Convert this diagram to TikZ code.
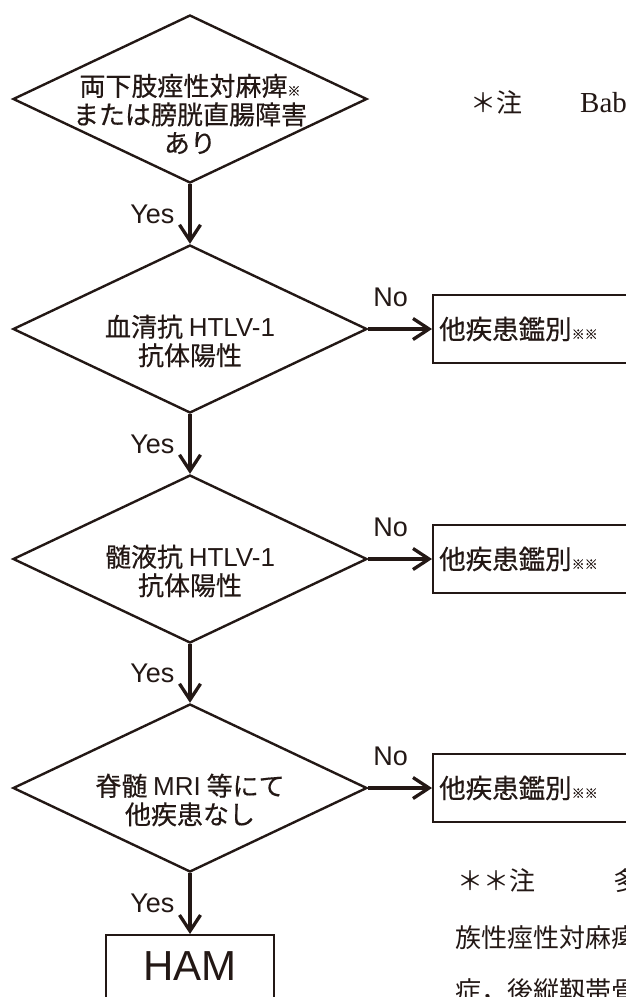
\documentclass[tikz,border=0pt]{standalone}
\usepackage{fontspec}
\setmainfont{Liberation Sans}
\newfontfamily\jp{Noto Sans CJK JP}[FakeBold=0.4]
\newfontfamily\jpn{Noto Sans CJK JP}
\newfontfamily\latn{Liberation Sans}
\newfontfamily\lserif{Liberation Serif}
\usetikzlibrary{shapes.geometric,arrows.meta}
\definecolor{ink}{HTML}{231815}
\tikzset{
  dia/.style={draw=ink, line width=2.4pt, diamond, minimum width=354pt, minimum height=168pt, inner sep=0pt},
  dtext/.style={text=ink, align=center, inner sep=0pt, font=\jp\fontsize{26}{28.5}\selectfont},
  arr/.style={draw=ink, line width=3.3pt, -{Straight Barb[length=16pt,width=21pt]}},
  lab/.style={text=ink, inner sep=0pt, font=\latn\fontsize{27}{27}\selectfont},
  sidebox/.style={draw=ink, line width=2.4pt, anchor=west, minimum height=68pt, text width=200pt, align=left, inner xsep=6pt, text=ink, font=\jp\fontsize{26.5}{26.5}\selectfont},
  hambox/.style={draw=ink, line width=2.4pt, anchor=north, minimum width=168pt, inner xsep=0pt, inner ysep=0pt, text height=45pt, text depth=60pt, text=ink, font=\latn\fontsize{42}{42}\selectfont},
  note/.style={text=ink, inner sep=0pt, anchor=base west, font=\jpn\fontsize{26}{26}\selectfont}
}
\newcommand\kome{{\fontsize{13}{13}\selectfont ※}}
\begin{document}
\begin{tikzpicture}[x=1pt,y=-1pt]
\useasboundingbox[fill=white] (0,0) rectangle (625,997);
% diamonds
\node[dia] (d1) at (190,99) {};
\node[dia] (d2) at (190,329) {};
\node[dia] (d3) at (190,559) {};
\node[dia] (d4) at (190,788) {};
% diamond texts
\node[dtext] (t1) at (190,114) {両下肢痙性対麻痺\kome\\または膀胱直腸障害\\あり};
\node[dtext] (t2) at (190,341) {血清抗 {\latn HTLV-1}\\抗体陽性};
\node[dtext] (t3) at (190,571) {髄液抗 {\latn HTLV-1}\\抗体陽性};
\node[dtext] (t4) at (190,800) {脊髄 {\latn MRI} 等にて\\他疾患なし};
% side boxes
\node[sidebox] (b1) at (432,329) {他疾患鑑別\kome\kome};
\node[sidebox] (b2) at (432,559) {他疾患鑑別\kome\kome};
\node[sidebox] (b3) at (432,788) {他疾患鑑別\kome\kome};
% HAM box
\node[hambox] (ham) at (190,934) {HAM};
% arrows
\draw[arr] (d1.south) -- node[lab, left=14pt] {Yes} (d2.north);
\draw[arr] (d2.south) -- node[lab, left=14pt] {Yes} (d3.north);
\draw[arr] (d3.south) -- node[lab, left=14pt] {Yes} (d4.north);
\draw[arr] (d4.south) -- node[lab, left=14pt] {Yes} (ham.north);
\draw[arr] (d2.east) -- node[lab, pos=0.35, above=21pt] {No} (b1.west);
\draw[arr] (d3.east) -- node[lab, pos=0.35, above=21pt] {No} (b2.west);
\draw[arr] (d4.east) -- node[lab, pos=0.35, above=21pt] {No} (b3.west);
% notes
\node[note] (n1) at (470,112) {＊注\hspace{58pt}{\lserif\fontsize{29}{29}\selectfont Babinski}徴候陽性};
\node[note] (n2) at (457,890) {＊＊注　　　多発性硬化症，家};
\node[note] (n3) at (455,947) {族性痙性対麻痺，脊髄小脳変性};
\node[note] (n4) at (455,1000) {症，後縦靱帯骨化症};
\end{tikzpicture}
\end{document}
